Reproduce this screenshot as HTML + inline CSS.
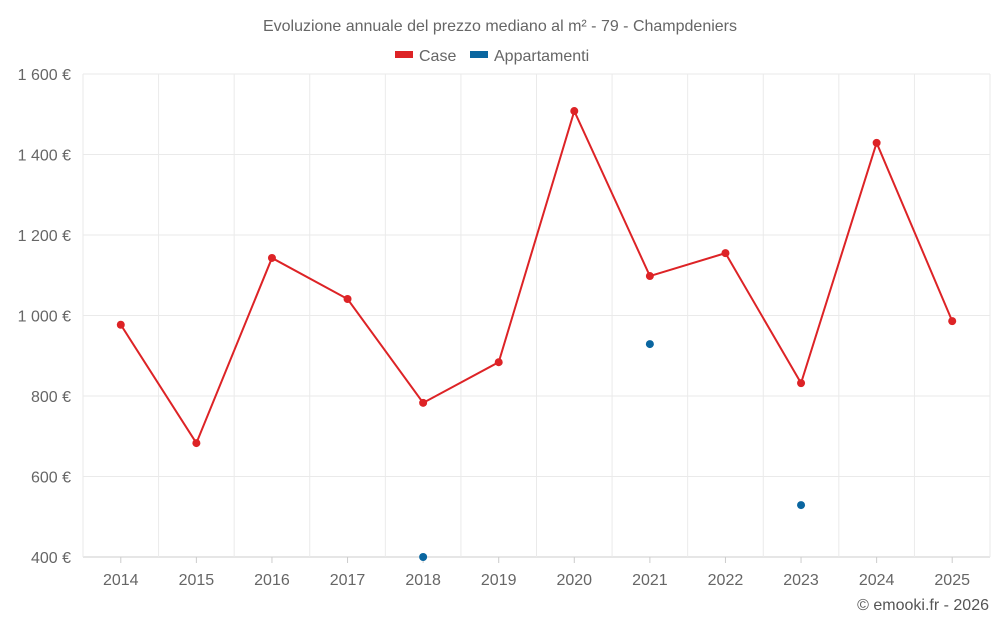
<!DOCTYPE html>
<html><head><meta charset="utf-8">
<style>
html,body{margin:0;padding:0;background:#fff;}
body{width:1000px;height:625px;overflow:hidden;font-family:"Liberation Sans",sans-serif;}
</style></head>
<body>
<svg id="chart" width="1000" height="625" xmlns="http://www.w3.org/2000/svg" font-family="Liberation Sans, sans-serif">
<text x="500" y="31" text-anchor="middle" font-size="16" fill="#666">Evoluzione annuale del prezzo mediano al m² - 79 - Champdeniers</text>
<g>
<g><rect x="395" y="51" width="18" height="7" fill="#dd2326"/><text x="419" y="61" font-size="16" fill="#666">Case</text></g>
<g><rect x="470" y="51" width="18" height="7" fill="#0a66a0"/><text x="494" y="61" font-size="16" fill="#666">Appartamenti</text></g>
</g>
<g id="grid"></g><g id="axes"></g><g id="series"></g>
<text x="989" y="610" text-anchor="end" font-size="16" fill="#555">© emooki.fr - 2026</text>
</svg>
<script>
const years = [2014,2015,2016,2017,2018,2019,2020,2021,2022,2023,2024,2025];
const caseValues = [977,683,1143,1041,783,884,1508,1098,1155,832,1429,986];
const apptValues = [null,null,null,null,400,null,null,929,null,529,null,null];
const yTicks = [400,600,800,1000,1200,1400,1600];
const yTickLabels = ["400 €","600 €","800 €","1 000 €","1 200 €","1 400 €","1 600 €"];

const L=83,R=990,T=74,B=557,yMin=400,yMax=1600;
const step=(R-L)/years.length;
const xs=i=>L+step*(i+0.5);
const ys=v=>B-(v-yMin)/(yMax-yMin)*(B-T);
const NS="http://www.w3.org/2000/svg";
function mk(tag,attrs,parent){const e=document.createElementNS(NS,tag);for(const k in attrs)e.setAttribute(k,attrs[k]);parent.appendChild(e);return e;}
const grid=document.getElementById('grid'),axes=document.getElementById('axes'),series=document.getElementById('series');
yTicks.forEach((t,i)=>{
  const ln=mk('line',{x1:L,x2:R,y1:ys(t),y2:ys(t),stroke:i==0?'#ccc':'#eaeaea','stroke-width':1},grid);
  
  
  const tx=mk('text',{x:71,y:ys(t)+6,'text-anchor':'end','font-size':16,fill:'#666'},axes);
  tx.textContent=yTickLabels[i];
  
  
});
for(let i=0;i<=years.length;i++){
  const x=L+step*i;
  const ln=mk('line',{x1:x,x2:x,y1:T,y2:B,stroke:'#eaeaea','stroke-width':1},grid);
  
  
}
years.forEach((y,i)=>{
  const tk=mk('line',{x1:xs(i),x2:xs(i),y1:B,y2:B+6,stroke:'#ccc'},axes);
  
  
  const tx=mk('text',{x:xs(i),y:585,'text-anchor':'middle','font-size':16,fill:'#666'},axes);
  tx.textContent=y;
  
  
});
const pts=caseValues.map((v,i)=>xs(i)+','+ys(v)).join(' ');
const pl=mk('polyline',{points:pts,fill:'none',stroke:'#dd2326','stroke-width':2},series);


caseValues.forEach((v,i)=>{
  const c=mk('circle',{cx:xs(i),cy:ys(v),r:4,fill:'#dd2326'},series);
  
  
});
apptValues.forEach((v,i)=>{
  if(v==null)return;
  const c=mk('circle',{cx:xs(i),cy:ys(v),r:4,fill:'#0a66a0'},series);
  
  
});
</script>
</body></html>
